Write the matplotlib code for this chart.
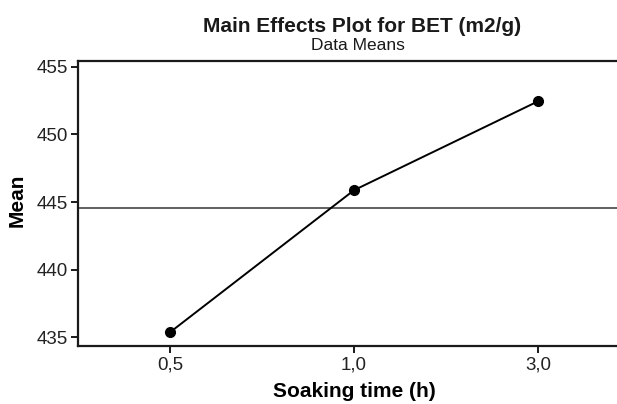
import matplotlib
matplotlib.use("Agg")
import matplotlib.pyplot as plt

plt.rcParams["font.family"] = ["Liberation Sans", "DejaVu Sans"]

# soaking time levels and the BET means at each level
levels = ["0,5", "1,0", "3,0"]
bet_means = [435.37, 445.87, 452.44]
grand_mean = 444.56
y_ticks = [435, 440, 445, 450, 455]

fig = plt.figure(figsize=(6.17, 4.04), dpi=100)
ax = fig.add_axes([0.1264, 0.1443, 0.8946, 0.7047])

x = list(range(len(levels)))
ax.plot(x, bet_means, color="black", lw=1.4, marker="o", ms=7, zorder=3)
ax.axhline(grand_mean, color="#444444", lw=1.2, zorder=2)

ax.set_xlim(-0.5, 2.5)
ax.set_ylim(434.38, 455.42)
ax.set_xticks(x)
ax.set_xticklabels(levels)
ax.set_yticks(y_ticks)

for side in ["left", "bottom", "top"]:
    ax.spines[side].set_linewidth(1.6)
    ax.spines[side].set_color("#1a1a1a")
ax.spines["right"].set_visible(False)
ax.tick_params(axis="both", labelsize=13.5, width=1.4, length=5,
               color="#1a1a1a", labelcolor="#222222")
ax.tick_params(axis="y", pad=2)
ax.tick_params(axis="x", pad=3)

ax.set_ylabel("Mean", fontsize=15, fontweight="bold")
ax.yaxis.set_label_coords(-0.093, 0.51)
ax.set_xlabel("Soaking time (h)", fontsize=15, fontweight="bold")
ax.xaxis.set_label_coords(0.5, -0.128)

fig.text(362 / 617, 1 - 32 / 404, "Main Effects Plot for BET (m2/g)",
         ha="center", va="baseline", fontsize=15, fontweight="bold",
         color="#1a1a1a")
fig.text(358 / 617, 1 - 50.5 / 404, "Data Means",
         ha="center", va="baseline", fontsize=12.5, color="#1a1a1a")

fig.savefig("out.png", dpi=100)
